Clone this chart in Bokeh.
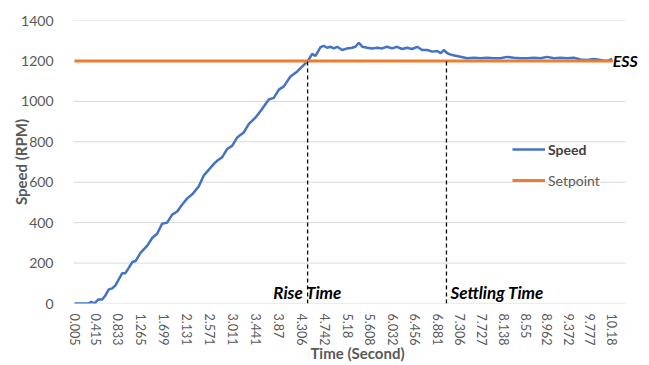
from bokeh.plotting import figure
from bokeh.models import Range1d, FixedTicker, Legend, LegendItem, Label
from bokeh.embed import file_html
from bokeh.resources import INLINE

# ---- data ----
time_s = [0.005, 0.27, 0.32, 0.38, 0.46, 0.53, 0.59, 0.655, 0.72, 0.78, 0.91, 0.97,
          1.03, 1.10, 1.16, 1.255, 1.38, 1.48, 1.57, 1.665, 1.76, 1.855, 1.95, 2.045,
          2.14, 2.235, 2.36, 2.455, 2.645, 2.71, 2.80, 2.895, 2.99, 3.085, 3.21, 3.305,
          3.43, 3.53, 3.685, 3.78, 3.875, 3.97, 4.095, 4.225, 4.35, 4.44, 4.505, 4.57,
          4.665, 4.725, 4.79, 4.855, 4.915, 4.98, 5.075, 5.17, 5.265, 5.325, 5.39, 5.455,
          5.55, 5.645, 5.74, 5.83, 5.925, 6.02, 6.115, 6.21, 6.305, 6.40, 6.495, 6.59,
          6.685, 6.78, 6.875, 6.94, 7.00, 7.065, 7.16, 7.22, 7.315, 7.44, 7.57, 7.695,
          7.82, 7.945, 8.07, 8.20, 8.325, 8.45, 8.58, 8.705, 8.83, 8.96, 9.085, 9.21,
          9.335, 9.46, 9.59, 9.715, 9.84, 9.97, 10.09, 10.19]
speed_rpm = [0, 0, 8, 0, 20, 20, 40, 70, 75, 90, 150, 150,
             175, 205, 210, 250, 285, 325, 345, 395, 400, 440, 455, 490,
             520, 540, 580, 634, 691, 707, 723, 764, 780, 821, 846, 887,
             919, 952, 1009, 1017, 1058, 1074, 1123, 1148, 1180, 1205, 1235, 1225,
             1268, 1275, 1265, 1270, 1262, 1270, 1254, 1262, 1265, 1270, 1290, 1270,
             1265, 1262, 1265, 1262, 1270, 1262, 1270, 1259, 1265, 1259, 1270, 1254,
             1254, 1246, 1249, 1238, 1254, 1238, 1229, 1226, 1221, 1213, 1216, 1213,
             1216, 1213, 1213, 1220, 1216, 1213, 1213, 1216, 1213, 1220, 1213, 1216,
             1213, 1216, 1207, 1205, 1210, 1205, 1200, 1210]
setpoint_time = [0.005, 10.2]
setpoint_rpm = [1200, 1200]
rise_time = 4.42
settling_time = 7.05

x_tick_values = [0.005, 0.415, 0.833, 1.265, 1.699, 2.131, 2.571, 3.011, 3.441, 3.87,
                 4.306, 4.742, 5.18, 5.608, 6.032, 6.456, 6.881, 7.306, 7.727, 8.138,
                 8.55, 8.962, 9.372, 9.777, 10.18]
x_tick_labels = ["0.005", "0.415", "0.833", "1.265", "1.699", "2.131", "2.571", "3.011",
                 "3.441", "3.87", "4.306", "4.742", "5.18", "5.608", "6.032", "6.456",
                 "6.881", "7.306", "7.727", "8.138", "8.55", "8.962", "9.372", "9.777",
                 "10.18"]
y_ticks = [0, 200, 400, 600, 800, 1000, 1200, 1400]

# axis extents (plot area spans X_START..X_GRID_END; extra room on the right for "ESS")
X_START, X_GRID_END, X_END = -0.014, 10.44, 10.744

FONT = "Lato"
GRAY = "#595959"
BLUE = "#4472C4"
ORANGE = "#ED7D31"

p = figure(width=645, height=365, output_backend="svg", toolbar_location=None,
           x_range=Range1d(X_START, X_END), y_range=Range1d(0, 1400),
           min_border_left=73, min_border_right=4, min_border_top=20, min_border_bottom=61)
p.outline_line_color = None
p.background_fill_color = "white"
p.border_fill_color = "white"

# horizontal gridlines (limited to the chart's plot area)
p.segment(x0=[X_START] * len(y_ticks), y0=y_ticks,
          x1=[X_GRID_END] * len(y_ticks), y1=y_ticks,
          line_color="#D9D9D9", line_width=1)

speed_r = p.line(time_s, speed_rpm, line_color=BLUE, line_width=2.5)
set_r = p.line(setpoint_time, setpoint_rpm, line_color=ORANGE, line_width=3)

p.segment(x0=[rise_time, settling_time], y0=[0, 0],
          x1=[rise_time, settling_time], y1=[setpoint_rpm[0], setpoint_rpm[0]],
          line_color="black", line_width=1.3, line_dash="4 3")

# axes
p.xgrid.grid_line_color = None
p.ygrid.grid_line_color = None

p.yaxis.ticker = FixedTicker(ticks=y_ticks)
p.yaxis.axis_line_color = None
p.yaxis.major_tick_line_color = None
p.yaxis.minor_tick_line_color = None
p.yaxis.major_label_text_font = FONT
p.yaxis.major_label_text_font_size = "14px"
p.yaxis.major_label_text_color = GRAY
p.yaxis.major_label_standoff = 14
p.yaxis.axis_label = "Speed (RPM)"
p.yaxis.axis_label_text_font = FONT
p.yaxis.axis_label_text_font_size = "15px"
p.yaxis.axis_label_text_font_style = "bold"
p.yaxis.axis_label_text_color = GRAY
p.yaxis.axis_label_standoff = -12

p.xaxis.ticker = FixedTicker(ticks=x_tick_values)
p.xaxis.major_label_overrides = {v: l for v, l in zip(x_tick_values, x_tick_labels)}
p.xaxis.major_label_orientation = "vertical"
p.xaxis.axis_line_color = None
p.xaxis.major_tick_line_color = None
p.xaxis.minor_tick_line_color = None
p.xaxis.major_label_text_font = FONT
p.xaxis.major_label_text_font_size = "12.5px"
p.xaxis.major_label_text_color = GRAY
p.xaxis.major_label_standoff = 4
p.xaxis.axis_label = "Time (Second)"
p.xaxis.axis_label_text_font = FONT
p.xaxis.axis_label_text_font_size = "15px"
p.xaxis.axis_label_text_font_style = "bold"
p.xaxis.axis_label_text_color = GRAY
p.xaxis.axis_label_standoff = -4

# annotations
ann = dict(text_font=FONT, text_font_size="17px", text_font_style="bold italic",
           text_color="black")
p.add_layout(Label(x=rise_time, y=0, text="Rise Time", text_align="center",
                   text_baseline="bottom", y_offset=1, **ann))
p.add_layout(Label(x=settling_time, y=0, text="Settling Time", text_align="left",
                   text_baseline="bottom", x_offset=4, y_offset=1, **ann))
p.add_layout(Label(x=setpoint_time[-1], y=setpoint_rpm[0], text="ESS", text_align="left",
                   text_baseline="middle", text_font=FONT, text_font_size="16px",
                   text_font_style="bold italic", text_color="black"))

# legends
leg1 = Legend(items=[LegendItem(label="Speed", renderers=[speed_r])],
              location=(439, 144), padding=0, margin=0, spacing=0,
              glyph_width=33, glyph_height=20, label_standoff=3, label_height=20,
              background_fill_alpha=0, border_line_alpha=0,
              label_text_font=FONT, label_text_font_size="14px",
              label_text_font_style="bold", label_text_color="#404040")
leg2 = Legend(items=[LegendItem(label="Setpoint", renderers=[set_r])],
              location=(439, 113), padding=0, margin=0, spacing=0,
              glyph_width=33, glyph_height=20, label_standoff=3, label_height=20,
              background_fill_alpha=0, border_line_alpha=0,
              label_text_font=FONT, label_text_font_size="14px",
              label_text_color=GRAY)
p.add_layout(leg1)
p.add_layout(leg2)

open("out.html", "w").write(file_html(p, INLINE))
